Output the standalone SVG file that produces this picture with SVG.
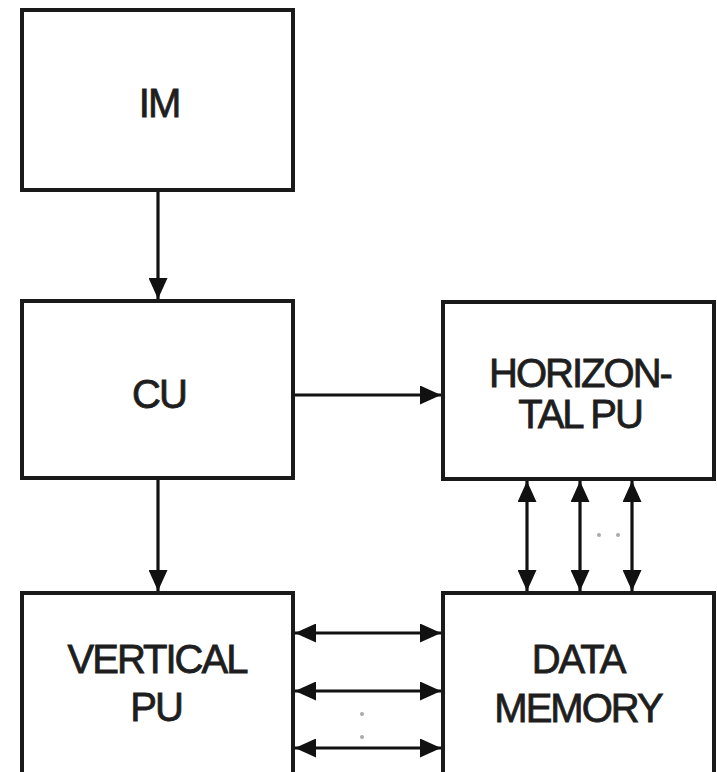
<svg xmlns="http://www.w3.org/2000/svg" width="717" height="772" viewBox="0 0 717 772">
<style>
.box{fill:#fff;stroke:#1a1a1a;stroke-width:4}
.lbl{font-family:"Liberation Sans",Arial,sans-serif;font-size:40px;letter-spacing:-2px;fill:#1e1e1e;stroke:#1e1e1e;stroke-width:0.8;text-anchor:middle}
.ln{stroke:#111;stroke-width:3.2;fill:none}
.dot{fill:#aaa}
</style>
<defs>
<marker id="ah" markerUnits="userSpaceOnUse" markerWidth="21" markerHeight="19" refX="21" refY="9.5" orient="auto-start-reverse">
<path d="M0,0 L21,9.5 L0,19 z" fill="#111"/>
</marker>
</defs>
<rect width="717" height="772" fill="#fff"/>
<g id="im"><rect class="box" x="22" y="10" width="271" height="180"/><text class="lbl" x="159" y="117">IM</text></g>
<g id="cu"><rect class="box" x="22" y="301" width="271" height="177"/><text class="lbl" x="159" y="408">CU</text></g>
<g id="hpu"><rect class="box" x="443" y="302" width="271" height="177"/><text class="lbl" x="580" y="387">HORIZON-</text><text class="lbl" x="580" y="428">TAL PU</text></g>
<g id="vpu"><rect class="box" x="22" y="593" width="271" height="200"/><text class="lbl" x="157" y="673">VERTICAL</text><text class="lbl" x="156" y="721">PU</text></g>
<g id="dm"><rect class="box" x="443" y="593" width="271" height="200"/><text class="lbl" x="578" y="673">DATA</text><text class="lbl" x="578" y="722">MEMORY</text></g>
<g id="connectors">
<line class="ln" x1="158" y1="192" x2="158" y2="299" marker-end="url(#ah)"/>
<line class="ln" x1="295" y1="395" x2="441" y2="395" marker-end="url(#ah)"/>
<line class="ln" x1="158" y1="480" x2="158" y2="591" marker-end="url(#ah)"/>
<line class="ln" x1="527" y1="481" x2="527" y2="591" marker-start="url(#ah)" marker-end="url(#ah)"/>
<line class="ln" x1="580" y1="481" x2="580" y2="591" marker-start="url(#ah)" marker-end="url(#ah)"/>
<line class="ln" x1="632" y1="481" x2="632" y2="591" marker-start="url(#ah)" marker-end="url(#ah)"/>
<line class="ln" x1="295" y1="633" x2="441" y2="633" marker-start="url(#ah)" marker-end="url(#ah)"/>
<line class="ln" x1="295" y1="691" x2="441" y2="691" marker-start="url(#ah)" marker-end="url(#ah)"/>
<line class="ln" x1="295" y1="748" x2="441" y2="748" marker-start="url(#ah)" marker-end="url(#ah)"/>
<circle class="dot" cx="599" cy="535" r="2"/>
<circle class="dot" cx="618" cy="535" r="2"/>
<circle class="dot" cx="362" cy="714" r="2"/>
<circle class="dot" cx="362" cy="737" r="2"/>
</g>
</svg>
